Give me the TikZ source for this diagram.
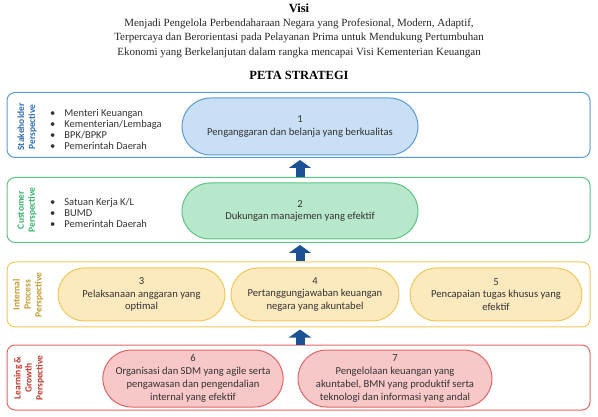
\documentclass[tikz,border=0pt]{standalone}
\usepackage{fontspec}
\setmainfont{Liberation Serif}
\newfontfamily\bodyfont{Carlito}
\usetikzlibrary{shapes.misc,arrows.meta}
\definecolor{bB}{HTML}{5B9BD5}\definecolor{bF}{HTML}{C9DFF5}\definecolor{bT}{HTML}{2F6DB5}
\definecolor{gB}{HTML}{5CC485}\definecolor{gF}{HTML}{B8E8CB}\definecolor{gT}{HTML}{33B36B}
\definecolor{yB}{HTML}{F0C95A}\definecolor{yF}{HTML}{FCE9BE}\definecolor{yT}{HTML}{C39A2E}
\definecolor{rB}{HTML}{E06666}\definecolor{rF}{HTML}{F8C8C8}\definecolor{rT}{HTML}{C0392B}
\definecolor{arr}{HTML}{1D5196}\definecolor{txt}{HTML}{333333}
\begin{document}
\begin{tikzpicture}[x=1pt,y=-1pt,
  band/.style={draw=#1,line width=1pt,rounded corners=8pt,minimum width=583pt,minimum height=65pt,inner sep=0pt},
  stad/.style={rounded rectangle,draw=#1,line width=1pt,inner sep=0pt,align=center,text=txt,font=\bodyfont\fontsize{10.6}{12.8}\selectfont},
  plabel/.style={rotate=90,align=center,text=#1,font=\bodyfont\bfseries\fontsize{9.5}{11}\selectfont,inner sep=0pt},
  blist/.style={anchor=west,align=left,text=txt,font=\bodyfont\fontsize{10.5}{11}\selectfont,inner sep=0pt},
  uparrow/.style={draw=arr,line width=9pt,-{Triangle[width=22pt,length=8pt]}}]
\useasboundingbox (0,0) rectangle (598,417);
% title
\node[font=\fontsize{12.5}{14}\selectfont\bfseries,inner sep=0pt] (visi) at (299,8) {Visi};
\node[align=center,text=black!85,font=\fontsize{11}{14.5}\selectfont,inner sep=0pt] (vtext) at (299,38) {Menjadi Pengelola Perbendaharaan Negara yang Profesional, Modern, Adaptif,\\ Terpercaya dan Berorientasi pada Pelayanan Prima untuk Mendukung Pertumbuhan\\ Ekonomi yang Berkelanjutan dalam rangka mencapai Visi Kementerian Keuangan};
\node[font=\fontsize{12.5}{14}\selectfont\bfseries,inner sep=0pt] (peta) at (299,75) {PETA STRATEGI};
% bands
\node[band=bB] (b1) at (298.5,125) {};
\node[band=gB] (b2) at (298.5,210) {};
\node[band=yB] (b3) at (298.5,294.5) {};
\node[band=rB] (b4) at (298.5,377.5) {};
% labels
\node[plabel=bT] (l1) at (27,127) {Stakeholder\\Perspective};
\node[plabel=gT] (l2) at (27,210) {Customer\\Perspective};
\node[plabel=yT] (l3) at (28,295) {Internal\\Process\\Perspective};
\node[plabel=rT] (l4) at (29,378) {Learning \&\\Growth\\Perspective};
% bullet lists
\node[blist] (list1) at (50,129) {\textbullet\hspace{9pt}Menteri Keuangan\\ \textbullet\hspace{9pt}Kementerian/Lembaga\\ \textbullet\hspace{9pt}BPK/BPKP\\ \textbullet\hspace{9pt}Pemerintah Daerah};
\node[blist] (list2) at (50,213) {\textbullet\hspace{9pt}Satuan Kerja K/L\\ \textbullet\hspace{9pt}BUMD\\ \textbullet\hspace{9pt}Pemerintah Daerah};
% stadiums
\node[stad=bB,fill=bF,minimum width=236pt,minimum height=57pt] (s1) at (300,126.5) {1\\Penganggaran dan belanja yang berkualitas};
\node[stad=gB,fill=gF,minimum width=236pt,minimum height=56pt] (s2) at (300,211) {2\\Dukungan manajemen yang efektif};
\node[stad=yB,fill=yF,minimum width=167pt,minimum height=53pt] (s3) at (141.5,294.5) {3\\Pelaksanaan anggaran yang\\optimal};
\node[stad=yB,fill=yF,minimum width=168pt,minimum height=53pt] (s4) at (315,294.5) {4\\Pertanggungjawaban keuangan\\negara yang akuntabel};
\node[stad=yB,fill=yF,minimum width=172pt,minimum height=53pt] (s5) at (496,294.5) {5\\Pencapaian tugas khusus yang\\efektif};
\node[stad=rB,fill=rF,minimum width=180pt,minimum height=57pt] (s6) at (193,378.5) {6\\Organisasi dan SDM yang agile serta\\pengawasan dan pengendalian\\internal yang efektif};
\node[stad=rB,fill=rF,minimum width=194pt,minimum height=57pt] (s7) at (395,378.5) {7\\Pengelolaan keuangan yang\\akuntabel, BMN yang produktif serta\\teknologi dan informasi yang andal};
% arrows
\coordinate (a1) at (300,0);
\draw[uparrow] (b2.north -| a1) -- ([yshift=-2pt]b1.south -| a1);
\draw[uparrow] (b3.north -| a1) -- ([yshift=-2pt]b2.south -| a1);
\draw[uparrow] (b4.north -| a1) -- ([yshift=-2pt]b3.south -| a1);
\end{tikzpicture}
\end{document}
